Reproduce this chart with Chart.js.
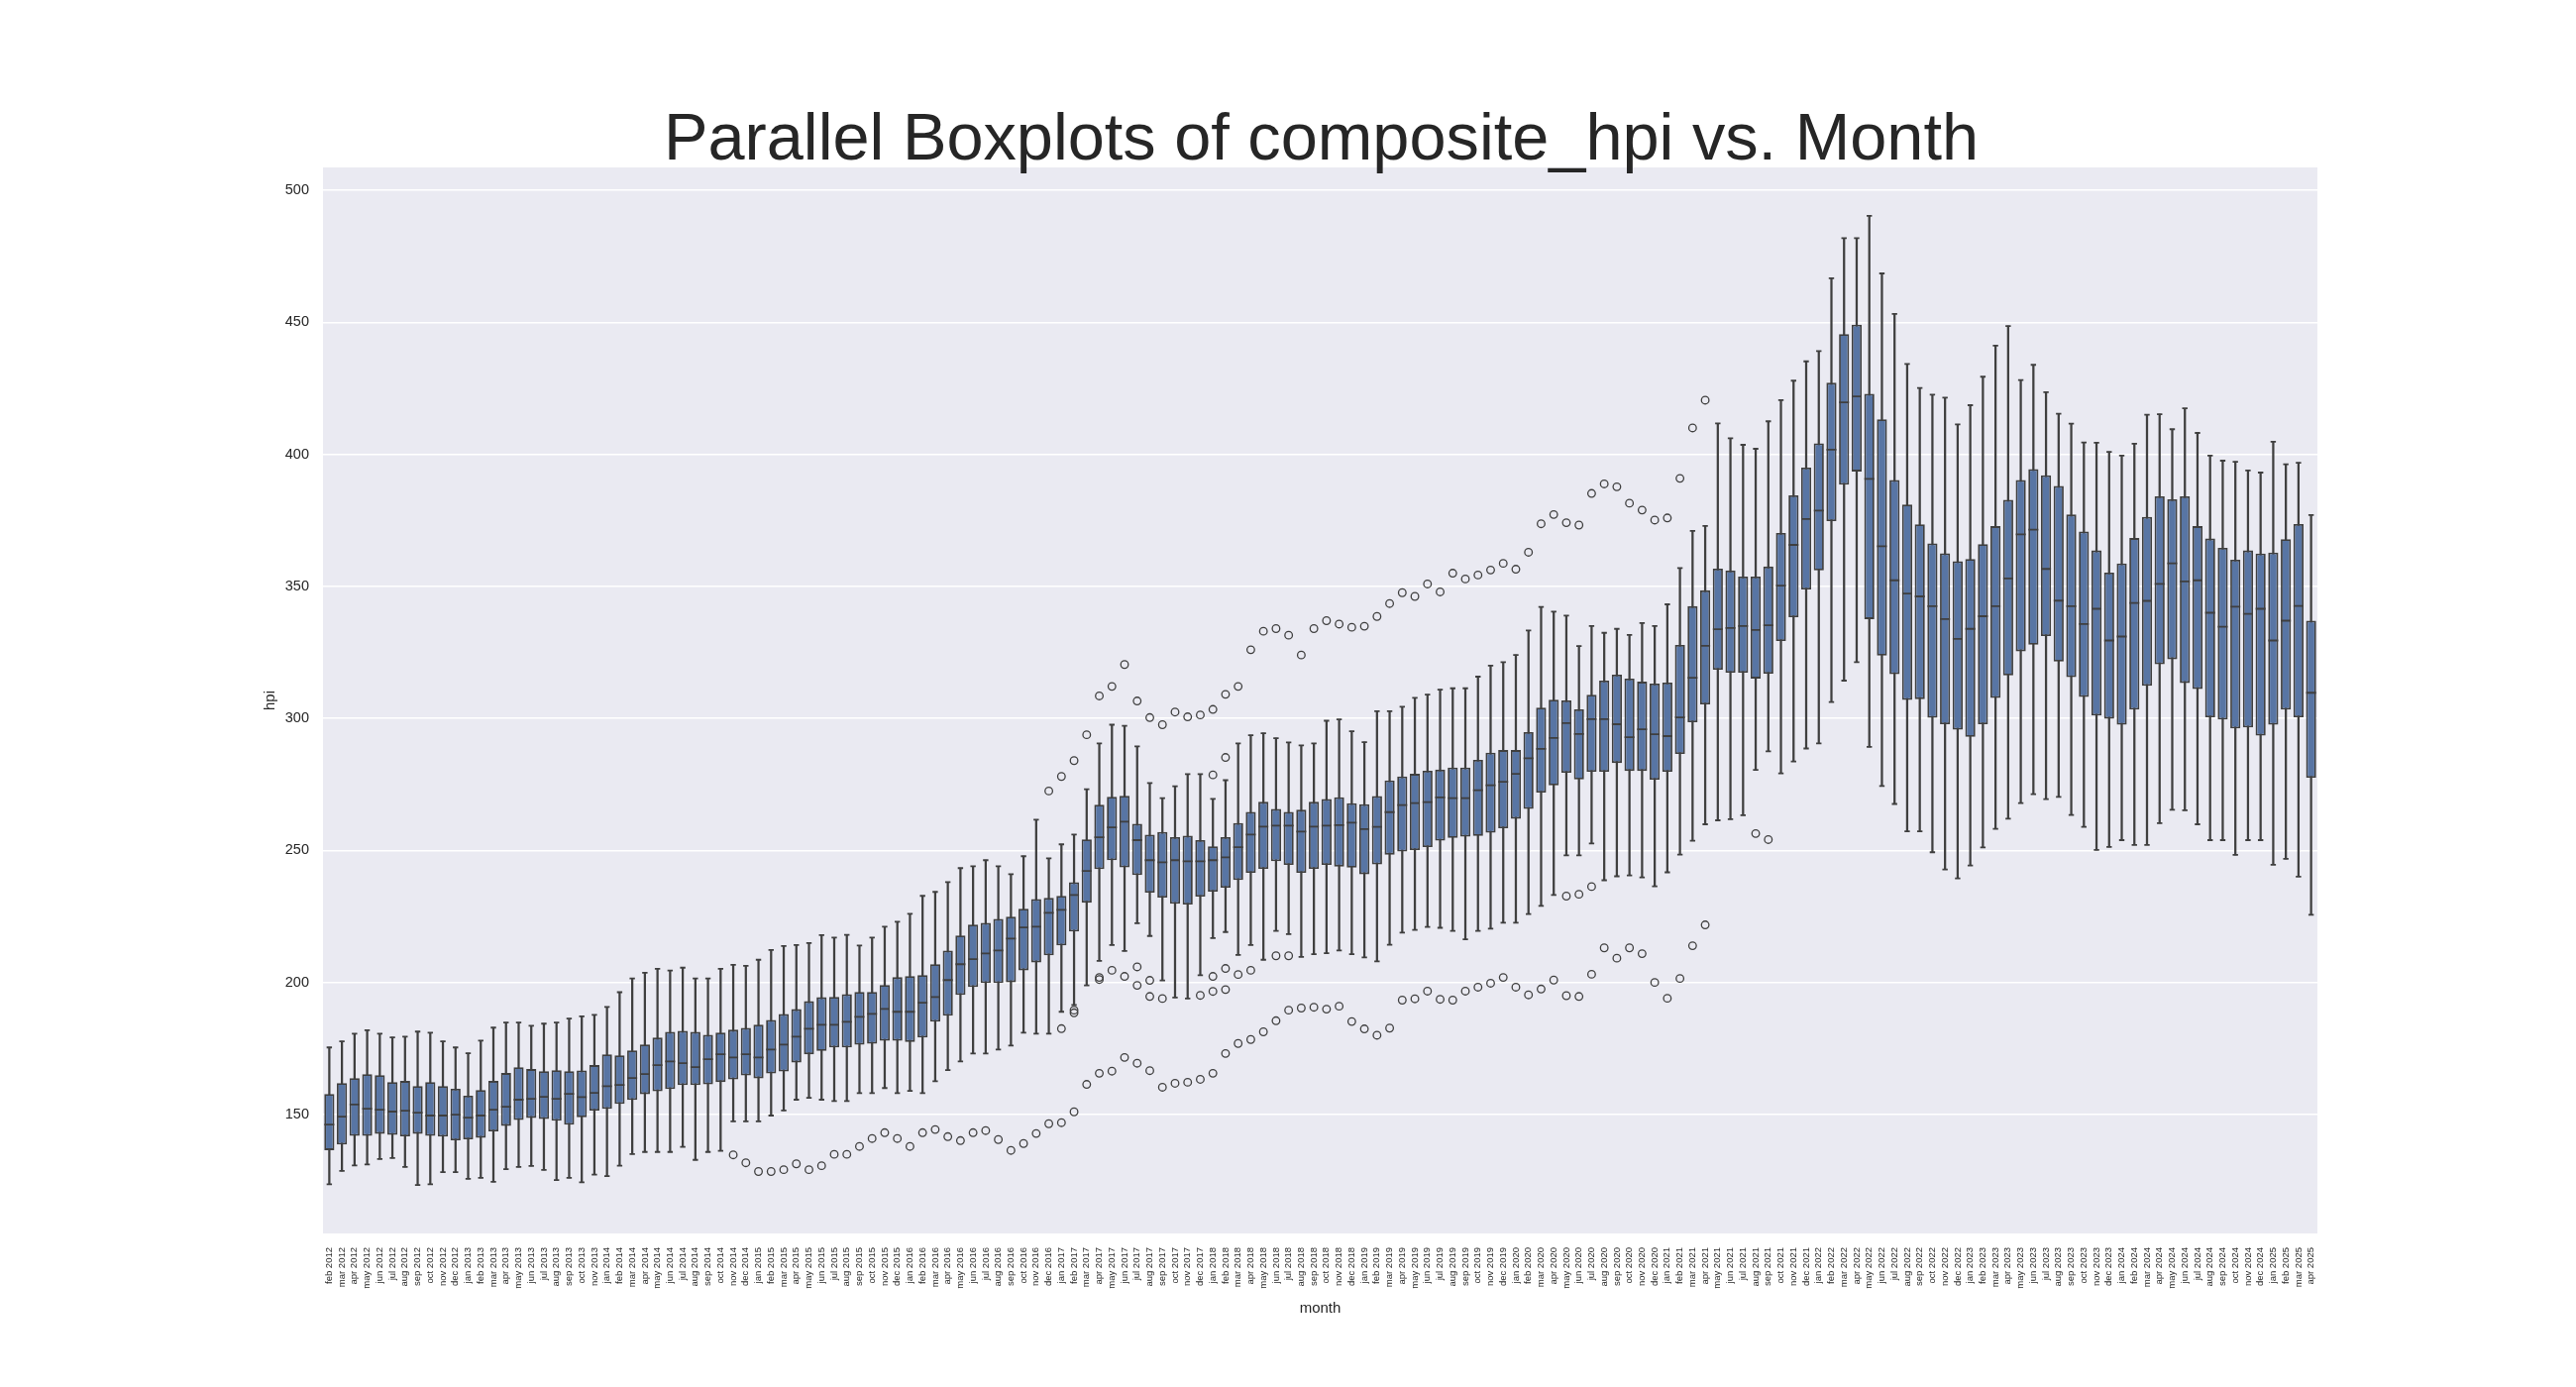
<!DOCTYPE html>
<html>
<head>
<meta charset="utf-8">
<title>Parallel Boxplots of composite_hpi vs. Month</title>
<script src="https://cdn.jsdelivr.net/npm/chart.js@4.4.1/dist/chart.umd.min.js"></script>
<style>
  html, body { margin: 0; padding: 0; background: #ffffff; }
  #wrap { width: 2600px; height: 1400px; }
</style>
</head>
<body>
<div id="wrap"><canvas id="chart" width="2600" height="1400"></canvas></div>
<script>
// ---------- Data ----------
// note: dec 2013 has no box in the source, so it is not in the list
const MONTHS = [
  'feb 2012', 'mar 2012', 'apr 2012', 'may 2012', 'jun 2012', 'jul 2012', 'aug 2012', 'sep 2012', 'oct 2012', 'nov 2012', 'dec 2012',
  'jan 2013', 'feb 2013', 'mar 2013', 'apr 2013', 'may 2013', 'jun 2013', 'jul 2013', 'aug 2013', 'sep 2013', 'oct 2013', 'nov 2013',
  'jan 2014', 'feb 2014', 'mar 2014', 'apr 2014', 'may 2014', 'jun 2014', 'jul 2014', 'aug 2014', 'sep 2014', 'oct 2014', 'nov 2014', 'dec 2014',
  'jan 2015', 'feb 2015', 'mar 2015', 'apr 2015', 'may 2015', 'jun 2015', 'jul 2015', 'aug 2015', 'sep 2015', 'oct 2015', 'nov 2015', 'dec 2015',
  'jan 2016', 'feb 2016', 'mar 2016', 'apr 2016', 'may 2016', 'jun 2016', 'jul 2016', 'aug 2016', 'sep 2016', 'oct 2016', 'nov 2016', 'dec 2016',
  'jan 2017', 'feb 2017', 'mar 2017', 'apr 2017', 'may 2017', 'jun 2017', 'jul 2017', 'aug 2017', 'sep 2017', 'oct 2017', 'nov 2017', 'dec 2017',
  'jan 2018', 'feb 2018', 'mar 2018', 'apr 2018', 'may 2018', 'jun 2018', 'jul 2018', 'aug 2018', 'sep 2018', 'oct 2018', 'nov 2018', 'dec 2018',
  'jan 2019', 'feb 2019', 'mar 2019', 'apr 2019', 'may 2019', 'jun 2019', 'jul 2019', 'aug 2019', 'sep 2019', 'oct 2019', 'nov 2019', 'dec 2019',
  'jan 2020', 'feb 2020', 'mar 2020', 'apr 2020', 'may 2020', 'jun 2020', 'jul 2020', 'aug 2020', 'sep 2020', 'oct 2020', 'nov 2020', 'dec 2020',
  'jan 2021', 'feb 2021', 'mar 2021', 'apr 2021', 'may 2021', 'jun 2021', 'jul 2021', 'aug 2021', 'sep 2021', 'oct 2021', 'nov 2021', 'dec 2021',
  'jan 2022', 'feb 2022', 'mar 2022', 'apr 2022', 'may 2022', 'jun 2022', 'jul 2022', 'aug 2022', 'sep 2022', 'oct 2022', 'nov 2022', 'dec 2022',
  'jan 2023', 'feb 2023', 'mar 2023', 'apr 2023', 'may 2023', 'jun 2023', 'jul 2023', 'aug 2023', 'sep 2023', 'oct 2023', 'nov 2023', 'dec 2023',
  'jan 2024', 'feb 2024', 'mar 2024', 'apr 2024', 'may 2024', 'jun 2024', 'jul 2024', 'aug 2024', 'sep 2024', 'oct 2024', 'nov 2024', 'dec 2024',
  'jan 2025', 'feb 2025', 'mar 2025', 'apr 2025'
];

// lower whisker end
const LOWER = [
  123.6, 128.6, 130.7, 131.1, 133.1, 133.5, 130.1, 123.3, 123.6, 128.2, 128.2, 125.6, 126.0, 124.5, 129.3, 130.1, 130.5, 129.0, 125.2, 126.0,
  124.3, 127.2, 126.7, 130.6, 135.0, 135.8, 135.8, 135.8, 137.7, 132.8, 135.8, 136.2, 147.4, 147.4, 147.4, 149.6, 151.5, 155.6, 156.3, 155.6,
  155.1, 155.1, 158.1, 158.1, 160.0, 158.1, 158.9, 158.1, 162.6, 166.8, 170.1, 173.1, 173.1, 174.6, 176.1, 181.0, 180.6, 180.6, 188.9, 191.5,
  198.9, 208.2, 214.2, 211.9, 222.4, 217.6, 200.8, 194.3, 193.9, 202.7, 216.8, 219.1, 210.4, 214.2, 208.6, 219.5, 218.3, 209.7, 210.7, 211.1,
  212.1, 210.7, 209.5, 208.0, 214.3, 218.9, 219.9, 221.0, 220.7, 219.5, 216.3, 219.5, 220.4, 222.6, 222.6, 225.9, 229.0, 233.1, 248.1, 248.1,
  252.6, 238.7, 240.2, 240.5, 239.8, 236.4, 241.7, 248.4, 253.7, 259.9, 261.4, 261.8, 263.3, 280.5, 287.5, 279.2, 283.7, 288.6, 290.5, 306.2,
  314.3, 321.3, 289.2, 274.4, 267.6, 257.2, 257.2, 249.3, 242.8, 239.4, 244.3, 251.1, 258.2, 262.0, 267.9, 271.3, 269.4, 270.3, 263.4, 258.9,
  250.2, 251.3, 253.9, 252.1, 252.1, 260.3, 265.4, 265.2, 259.9, 253.9, 253.9, 248.3, 253.9, 253.9, 244.6, 246.8, 240.1, 225.6
];

const Q1 = [
  136.5, 138.6, 141.9, 141.9, 142.7, 142.3, 141.7, 142.7, 141.9, 141.6, 140.2, 140.6, 141.2, 143.6, 145.7, 147.9, 148.7, 148.3, 147.6, 146.1,
  148.9, 151.5, 152.1, 154.0, 155.5, 157.7, 158.8, 159.6, 161.1, 161.1, 161.4, 162.3, 163.3, 164.8, 163.7, 165.5, 166.3, 169.7, 172.8, 174.1,
  175.4, 175.4, 176.4, 176.8, 177.9, 177.9, 177.5, 179.1, 185.1, 187.4, 195.3, 198.3, 199.8, 199.8, 200.1, 204.6, 207.6, 210.3, 214.0, 219.3,
  230.2, 242.9, 246.3, 243.6, 240.7, 234.0, 232.1, 229.8, 229.5, 232.5, 234.4, 235.9, 238.8, 241.5, 243.0, 245.9, 244.5, 241.5, 243.0, 244.5,
  243.9, 243.5, 241.0, 244.7, 248.4, 249.6, 250.1, 251.3, 253.7, 254.7, 255.2, 255.5, 256.7, 258.4, 262.0, 265.7, 271.9, 274.6, 279.4, 276.9,
  279.8, 279.8, 283.1, 280.1, 280.1, 276.8, 279.8, 286.5, 298.5, 305.3, 318.4, 317.3, 317.3, 315.1, 316.9, 329.3, 338.3, 348.8, 356.0, 374.7,
  388.5, 393.5, 337.6, 323.8, 316.7, 307.0, 307.3, 300.2, 297.8, 295.7, 293.0, 297.8, 307.7, 316.3, 325.4, 327.9, 331.2, 321.5, 315.6, 308.1,
  301.1, 299.9, 297.6, 303.3, 312.3, 320.5, 322.4, 313.4, 311.1, 300.4, 299.6, 296.2, 296.6, 293.5, 297.6, 303.3, 300.4, 277.5
];

const MEDIAN = [
  146.2, 149.2, 153.8, 152.2, 151.8, 151.1, 151.4, 150.7, 149.6, 149.6, 149.9, 148.8, 149.6, 151.8, 152.9, 155.6, 155.9, 156.7, 155.9, 157.8,
  156.6, 158.2, 160.7, 161.2, 163.8, 165.3, 168.7, 170.1, 169.4, 167.9, 170.9, 172.8, 171.6, 172.8, 171.6, 174.6, 176.5, 179.5, 182.5, 184.0,
  184.0, 185.1, 187.0, 188.1, 190.0, 188.9, 188.9, 192.3, 194.5, 200.9, 206.9, 208.8, 211.0, 212.1, 216.6, 220.8, 221.1, 226.4, 227.5, 233.1,
  242.2, 255.0, 258.7, 260.9, 253.9, 246.3, 245.5, 246.3, 245.9, 245.9, 246.3, 247.4, 251.2, 256.0, 259.0, 259.4, 259.4, 257.1, 259.0, 259.4,
  259.6, 260.5, 258.1, 258.9, 264.5, 267.2, 267.9, 268.3, 270.1, 269.8, 269.8, 272.8, 274.7, 276.0, 279.0, 284.9, 288.5, 292.6, 298.2, 294.1,
  299.7, 299.7, 297.8, 292.9, 295.9, 294.0, 293.3, 300.4, 315.4, 327.5, 333.8, 334.2, 335.0, 333.5, 335.3, 350.3, 365.7, 375.5, 378.7, 401.8,
  419.7, 421.9, 390.7, 365.2, 352.3, 347.3, 346.2, 342.5, 337.6, 330.1, 333.9, 338.7, 342.5, 353.0, 369.7, 371.5, 356.6, 344.6, 342.5, 335.7,
  341.5, 329.5, 331.0, 343.7, 344.5, 350.9, 358.7, 351.9, 352.3, 340.0, 334.7, 342.3, 339.6, 341.5, 329.5, 337.0, 342.6, 309.7
];

const Q3 = [
  157.8, 161.9, 163.8, 165.3, 164.9, 162.3, 162.7, 160.8, 162.3, 160.8, 159.7, 157.1, 159.3, 162.7, 165.7, 167.9, 167.2, 166.4, 166.8, 166.4,
  166.7, 168.7, 172.8, 172.4, 174.3, 176.5, 179.1, 181.3, 181.7, 181.3, 180.2, 181.0, 182.1, 182.8, 184.0, 185.8, 188.1, 189.9, 192.9, 194.4,
  194.5, 195.6, 196.4, 196.4, 199.0, 202.0, 202.4, 202.8, 206.9, 212.1, 217.8, 221.9, 222.6, 224.1, 224.9, 227.9, 231.6, 232.0, 232.8, 238.0,
  254.2, 267.3, 270.3, 270.7, 260.1, 256.0, 257.0, 255.0, 255.6, 253.9, 251.6, 255.0, 260.4, 264.6, 268.4, 265.7, 264.6, 265.4, 268.4, 269.5,
  270.1, 267.9, 267.5, 270.6, 276.5, 278.0, 279.0, 280.2, 280.6, 281.4, 281.4, 284.3, 287.0, 288.0, 288.0, 294.8, 304.1, 307.1, 306.8, 303.4,
  309.0, 314.3, 316.6, 315.1, 313.9, 313.2, 313.6, 327.8, 342.5, 348.5, 356.7, 356.0, 353.7, 353.7, 357.5, 370.2, 384.5, 395.0, 404.2, 427.1,
  445.5, 449.1, 422.9, 413.3, 390.3, 381.0, 373.5, 366.3, 362.5, 359.5, 360.4, 366.0, 372.8, 382.8, 390.3, 394.4, 392.1, 388.0, 377.2, 370.8,
  363.6, 355.2, 358.7, 368.3, 376.3, 384.1, 383.0, 384.1, 372.8, 368.1, 364.6, 360.1, 363.6, 362.4, 362.8, 367.9, 373.6, 337.0
];

// upper whisker end
const UPPER = [
  175.4, 177.7, 180.6, 181.9, 180.6, 179.2, 179.5, 181.4, 181.0, 177.7, 175.4, 173.2, 178.0, 182.9, 184.8, 184.8, 183.6, 184.4, 184.8, 186.3,
  187.2, 187.7, 190.7, 196.3, 201.5, 203.7, 205.2, 204.5, 205.6, 201.5, 201.5, 205.2, 206.7, 206.3, 208.6, 212.3, 213.8, 214.2, 214.9, 217.9,
  217.0, 218.0, 214.0, 217.0, 221.1, 223.0, 226.0, 232.8, 234.3, 238.0, 243.3, 244.0, 246.3, 244.0, 241.0, 247.8, 261.6, 247.0, 252.3, 256.0,
  273.2, 290.5, 297.6, 297.2, 289.4, 275.5, 269.8, 274.3, 278.9, 278.9, 269.5, 276.6, 290.5, 293.6, 294.4, 292.5, 290.9, 289.8, 290.5, 299.1,
  299.6, 295.1, 291.0, 302.7, 302.7, 304.4, 307.8, 309.0, 310.9, 311.4, 311.4, 315.8, 320.0, 321.3, 324.0, 333.3, 342.2, 340.4, 338.9, 327.4,
  335.0, 332.4, 333.9, 331.6, 336.1, 335.0, 343.2, 356.9, 371.0, 372.9, 411.7, 406.1, 403.6, 402.1, 412.5, 420.5, 427.9, 435.2, 439.1, 466.7,
  481.9, 481.9, 490.3, 468.5, 453.2, 434.2, 425.1, 422.6, 421.5, 411.3, 418.6, 429.4, 441.2, 448.6, 428.1, 433.9, 423.5, 415.4, 411.6, 404.5,
  404.4, 400.9, 399.5, 404.0, 415.0, 415.2, 409.5, 417.4, 408.1, 399.5, 397.6, 397.2, 393.9, 393.1, 404.8, 396.2, 396.8, 377.0
];

// fliers: position in MONTHS and value
const OUTLIER_IDX = [
  32, 33, 34, 35, 36, 37, 38, 39, 40, 41, 42, 43, 44, 45, 46, 47, 48, 49, 50, 51, 52, 53, 54, 55, 56,
  57, 57, 58, 58, 58, 59, 59, 59, 59,
  60, 60, 61, 61, 61, 61, 62, 62, 62, 63, 63, 63, 64, 64, 64, 64, 65, 65, 65, 65,
  66, 66, 66, 67, 67, 68, 68, 69, 69, 69, 70, 70, 70, 70, 70, 71, 71, 71, 71, 71,
  72, 72, 72, 73, 73, 73, 74, 74, 75, 75, 75, 76, 76, 76, 77, 77, 78, 78, 79, 79,
  80, 80, 81, 81, 82, 82, 83, 83, 84, 84, 85, 85, 86, 86, 87, 87, 88, 88, 89, 89,
  90, 90, 91, 91, 92, 92, 93, 93, 94, 94, 95, 95, 96, 96, 97, 97, 98, 98, 98, 99, 99, 99,
  100, 100, 100, 101, 101, 102, 102, 103, 103, 104, 104, 105, 105, 106, 106, 107, 107, 108, 108, 109, 109,
  113, 114
];
const OUTLIER_VAL = [
  134.7, 131.7, 128.4, 128.4, 129.1, 131.3, 129.1, 130.6, 134.9, 134.9, 137.9, 140.9, 143.1, 140.9, 137.9, 143.1, 144.3, 141.6, 140.1, 143.1, 143.9, 140.5, 136.4, 139.0, 142.8,
  146.5, 272.5, 146.9, 182.5, 278.0, 151.0, 188.5, 189.5, 284.0,
  161.4, 293.8, 165.6, 201.1, 201.9, 308.5, 166.4, 204.6, 312.1, 171.6, 202.3, 320.4, 169.4, 198.9, 205.9, 306.6, 166.6, 194.7, 200.8, 300.3,
  160.3, 193.9, 297.6, 161.8, 302.4, 162.2, 300.6, 163.3, 195.1, 301.3, 165.6, 196.6, 202.3, 278.6, 303.4, 173.1, 197.3, 205.3, 285.2, 309.1,
  176.9, 203.0, 312.1, 178.4, 204.6, 326.0, 181.3, 333.0, 185.5, 210.1, 334.0, 189.5, 210.1, 331.5, 190.3, 324.0, 190.6, 334.0, 189.9, 337.0,
  191.0, 335.7, 185.2, 334.5, 182.4, 334.9, 180.0, 338.6, 182.7, 343.5, 193.3, 347.6, 193.8, 346.2, 196.7, 350.9, 193.6, 347.9, 193.3, 355.0,
  196.7, 352.8, 198.2, 354.3, 199.7, 356.2, 201.9, 358.7, 198.2, 356.5, 195.3, 362.9, 197.5, 373.7, 200.9, 377.2, 195.0, 232.7, 374.1, 194.7, 233.4, 373.2,
  203.1, 236.3, 385.2, 213.1, 388.8, 209.2, 387.7, 213.1, 381.5, 210.9, 378.9, 200.0, 375.1, 194.0, 375.9, 201.5, 390.9, 213.9, 410.0, 221.8, 420.5,
  256.4, 254.1
];

const Y_TICKS = [150, 200, 250, 300, 350, 400, 450, 500];

// ---------- Style ----------
const LINE = '#3f3f3f';
const FILL = '#5875a4';
const TEXT = '#262626';
const PLOT_BG = '#eaeaf2';
const FONT = '"Liberation Sans", Arial, Helvetica, sans-serif';
const TITLE = 'Parallel Boxplots of composite_hpi vs. Month';

// grey panel behind the grid, seaborn darkgrid look
const plotBg = {
  id: 'plotBg',
  beforeDraw(chart) {
    const { ctx, chartArea: a } = chart;
    ctx.save();
    ctx.fillStyle = PLOT_BG;
    ctx.fillRect(a.left, a.top, a.right - a.left, a.bottom - a.top);
    ctx.restore();
  }
};

// big title, centred over the plot
const bigTitle = {
  id: 'bigTitle',
  afterDraw(chart) {
    const { ctx, chartArea: a } = chart;
    ctx.save();
    ctx.font = '66.7px ' + FONT;
    ctx.fillStyle = TEXT;
    ctx.textAlign = 'center';
    ctx.textBaseline = 'alphabetic';
    ctx.fillText(TITLE, (a.left + a.right) / 2 + 1, 161);
    ctx.restore();
  }
};

// ---------- Datasets ----------
const whiskers = MONTHS.map((m, i) => [LOWER[i], UPPER[i]]);
const boxes = MONTHS.map((m, i) => [Q1[i], Q3[i]]);
const fliers = OUTLIER_IDX.map((idx, k) => ({ x: MONTHS[idx], y: OUTLIER_VAL[k] }));

function markLine(label, data, radius, order) {
  return {
    type: 'line',
    label,
    data,
    showLine: false,
    pointStyle: 'line',
    pointRadius: radius,
    pointHoverRadius: radius,
    pointBorderWidth: 1.8,
    pointBorderColor: LINE,
    order
  };
}

new Chart(document.getElementById('chart'), {
  type: 'bar',
  data: {
    labels: MONTHS,
    datasets: [
      {
        type: 'line',
        label: 'outliers',
        data: fliers,
        showLine: false,
        pointStyle: 'circle',
        pointRadius: 3.8,
        pointHoverRadius: 3.8,
        pointBorderWidth: 1.3,
        pointBorderColor: LINE,
        pointBackgroundColor: 'rgba(0,0,0,0)',
        order: 1
      },
      markLine('median', MEDIAN, 5, 2),
      markLine('upper cap', UPPER, 2.7, 3),
      markLine('lower cap', LOWER, 2.7, 3),
      {
        label: 'box',
        data: boxes,
        backgroundColor: FILL,
        borderColor: LINE,
        borderWidth: 1.8,
        borderSkipped: false,
        barPercentage: 0.8,
        categoryPercentage: 1,
        grouped: false,
        order: 4
      },
      {
        label: 'whisker',
        data: whiskers,
        backgroundColor: LINE,
        borderWidth: 0,
        barThickness: 1.6,
        grouped: false,
        order: 5
      }
    ]
  },
  options: {
    responsive: false,
    animation: false,
    events: [],
    layout: { padding: { left: 250, right: 261, top: 169, bottom: 55 } },
    plugins: {
      legend: { display: false },
      tooltip: { enabled: false },
      title: { display: false }
    },
    scales: {
      x: {
        type: 'category',
        offset: true,
        grid: { display: false, drawTicks: false },
        border: { display: false },
        ticks: {
          autoSkip: false,
          minRotation: 90,
          maxRotation: 90,
          padding: 14,
          color: TEXT,
          font: { family: FONT, size: 9.5 }
        },
        title: {
          display: true,
          text: 'month',
          color: TEXT,
          font: { family: FONT, size: 15 },
          padding: { top: 0, bottom: 15 }
        },
        afterFit: (s) => { s.height = 100; }
      },
      y: {
        min: 104.95,
        max: 508.65,
        grid: { color: '#ffffff', lineWidth: 1.4, drawTicks: false },
        border: { display: false },
        afterBuildTicks: (s) => { s.ticks = Y_TICKS.map(v => ({ value: v })); },
        ticks: {
          padding: 14,
          color: TEXT,
          font: { family: FONT, size: 14.5 }
        },
        title: {
          display: true,
          text: 'hpi',
          color: TEXT,
          font: { family: FONT, size: 15 },
          padding: { top: 13.5, bottom: 0 }
        },
        afterFit: (s) => { s.width = 76; }
      }
    }
  },
  plugins: [plotBg, bigTitle]
});
</script>
</body>
</html>
